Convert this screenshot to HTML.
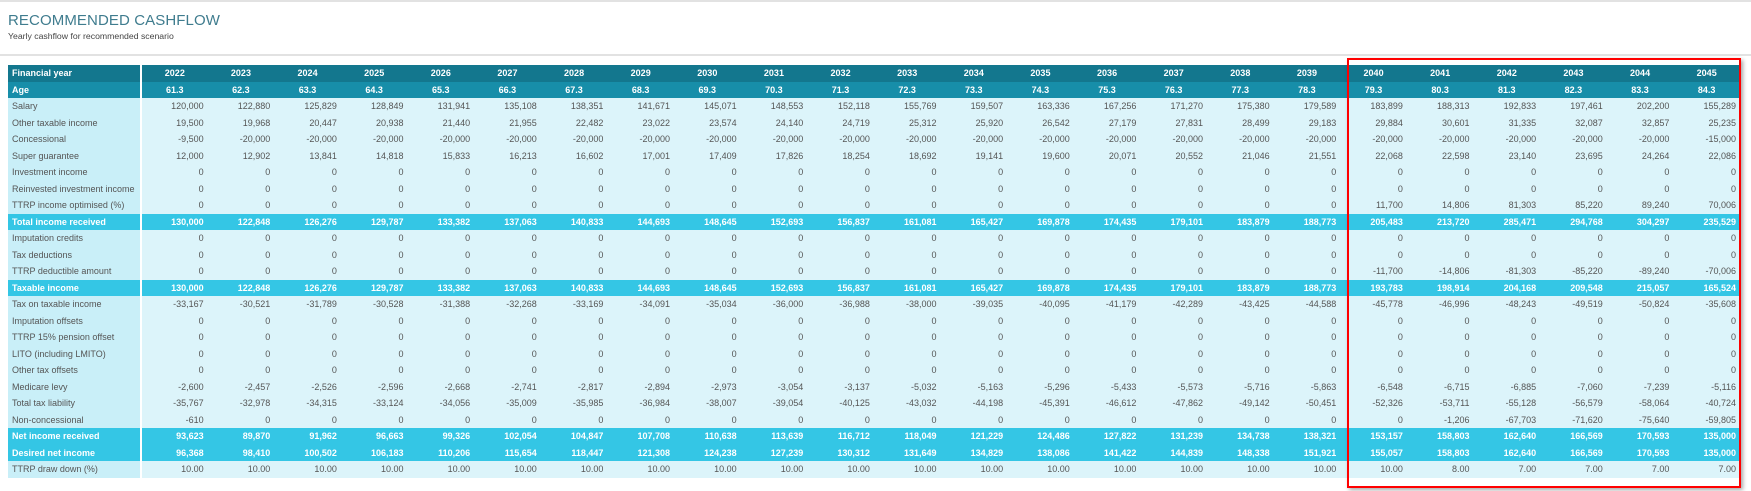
<!DOCTYPE html>
<html><head><meta charset="utf-8"><style>
body{margin:0;width:1751px;height:491px;background:#fff;position:relative;overflow:hidden;font-family:"Liberation Sans",sans-serif;}
.line{position:absolute;left:0;width:1751px;height:2px;background:#e2e2e2;}
#title{position:absolute;left:8px;top:12px;font-size:15px;color:#3f7c8e;letter-spacing:0.1px;font-weight:normal;}
#sub{position:absolute;left:8px;top:31px;font-size:8.7px;color:#444;}
table{position:absolute;left:8px;top:65px;border-collapse:collapse;table-layout:fixed;width:1733px;font-size:9px;color:#555;}
td{height:16.5px;padding:0 4px;text-align:right;white-space:nowrap;overflow:hidden;background:#dcf4fa;box-sizing:border-box;}
td.lab{text-align:left;background:#c9eff8;border-right:2px solid #fff;}
tr.h1 td{background:#13778e;color:#fff;font-weight:bold;text-align:center;}
tr.h2 td{background:#178ea9;color:#fff;font-weight:bold;text-align:center;}
tr.h1 td.lab,tr.h2 td.lab{text-align:left;}
tr.hl td{background:#34c6e5;color:#fff;font-weight:bold;}
#redbox{position:absolute;left:1347px;top:58px;width:390px;height:426px;border:2px solid #f00;box-shadow:2px 2px 4px rgba(0,0,0,0.35);}
</style></head><body>
<div class="line" style="top:0"></div>
<div id="title">RECOMMENDED CASHFLOW</div>
<div id="sub">Yearly cashflow for recommended scenario</div>
<div class="line" style="top:54px"></div>
<table id="tbl"><colgroup><col style="width:133px"></colgroup><tbody id="tb"></tbody></table>
<div id="redbox"></div>
<script>
const years=[2022,2023,2024,2025,2026,2027,2028,2029,2030,2031,2032,2033,2034,2035,2036,2037,2038,2039,2040,2041,2042,2043,2044,2045];
const ages=["61.3","62.3","63.3","64.3","65.3","66.3","67.3","68.3","69.3","70.3","71.3","72.3","73.3","74.3","75.3","76.3","77.3","78.3","79.3","80.3","81.3","82.3","83.3","84.3"];
const Z=new Array(24).fill(0);
const salary=[120000,122880,125829,128849,131941,135108,138351,141671,145071,148553,152118,155769,159507,163336,167256,171270,175380,179589,183899,188313,192833,197461,202200,155289];
const otherTaxable=[19500,19968,20447,20938,21440,21955,22482,23022,23574,24140,24719,25312,25920,26542,27179,27831,28499,29183,29884,30601,31335,32087,32857,25235];
const concessional=[-9500,-20000,-20000,-20000,-20000,-20000,-20000,-20000,-20000,-20000,-20000,-20000,-20000,-20000,-20000,-20000,-20000,-20000,-20000,-20000,-20000,-20000,-20000,-15000];
const superGuarantee=[12000,12902,13841,14818,15833,16213,16602,17001,17409,17826,18254,18692,19141,19600,20071,20552,21046,21551,22068,22598,23140,23695,24264,22086];
const ttrpIncome=[0,0,0,0,0,0,0,0,0,0,0,0,0,0,0,0,0,0,11700,14806,81303,85220,89240,70006];
const totalIncome=[130000,122848,126276,129787,133382,137063,140833,144693,148645,152693,156837,161081,165427,169878,174435,179101,183879,188773,205483,213720,285471,294768,304297,235529];
const ttrpDeductible=[0,0,0,0,0,0,0,0,0,0,0,0,0,0,0,0,0,0,-11700,-14806,-81303,-85220,-89240,-70006];
const taxableIncome=[130000,122848,126276,129787,133382,137063,140833,144693,148645,152693,156837,161081,165427,169878,174435,179101,183879,188773,193783,198914,204168,209548,215057,165524];
const taxOnTaxable=[-33167,-30521,-31789,-30528,-31388,-32268,-33169,-34091,-35034,-36000,-36988,-38000,-39035,-40095,-41179,-42289,-43425,-44588,-45778,-46996,-48243,-49519,-50824,-35608];
const medicare=[-2600,-2457,-2526,-2596,-2668,-2741,-2817,-2894,-2973,-3054,-3137,-5032,-5163,-5296,-5433,-5573,-5716,-5863,-6548,-6715,-6885,-7060,-7239,-5116];
const totalTax=[-35767,-32978,-34315,-33124,-34056,-35009,-35985,-36984,-38007,-39054,-40125,-43032,-44198,-45391,-46612,-47862,-49142,-50451,-52326,-53711,-55128,-56579,-58064,-40724];
const nonConcessional=[-610,0,0,0,0,0,0,0,0,0,0,0,0,0,0,0,0,0,0,-1206,-67703,-71620,-75640,-59805];
const netIncome=[93623,89870,91962,96663,99326,102054,104847,107708,110638,113639,116712,118049,121229,124486,127822,131239,134738,138321,153157,158803,162640,166569,170593,135000];
const desiredNet=[96368,98410,100502,106183,110206,115654,118447,121308,124238,127239,130312,131649,134829,138086,141422,144839,148338,151921,155057,158803,162640,166569,170593,135000];
const drawDown=[10,10,10,10,10,10,10,10,10,10,10,10,10,10,10,10,10,10,10,8,7,7,7,7];
const fmt=v=>v.toLocaleString('en-US');
const rows=[
["Financial year",years.map(String),"h1"],["Age",ages,"h2"],
["Salary",salary.map(fmt)],["Other taxable income",otherTaxable.map(fmt)],["Concessional",concessional.map(fmt)],
["Super guarantee",superGuarantee.map(fmt)],["Investment income",Z.map(fmt)],["Reinvested investment income",Z.map(fmt)],
["TTRP income optimised (%)",ttrpIncome.map(fmt)],["Total income received",totalIncome.map(fmt),"hl"],
["Imputation credits",Z.map(fmt)],["Tax deductions",Z.map(fmt)],["TTRP deductible amount",ttrpDeductible.map(fmt)],
["Taxable income",taxableIncome.map(fmt),"hl"],["Tax on taxable income",taxOnTaxable.map(fmt)],
["Imputation offsets",Z.map(fmt)],["TTRP 15% pension offset",Z.map(fmt)],["LITO (including LMITO)",Z.map(fmt)],
["Other tax offsets",Z.map(fmt)],["Medicare levy",medicare.map(fmt)],["Total tax liability",totalTax.map(fmt)],
["Non-concessional",nonConcessional.map(fmt)],["Net income received",netIncome.map(fmt),"hl"],
["Desired net income",desiredNet.map(fmt),"hl"],["TTRP draw down (%)",drawDown.map(v=>v.toFixed(2))]];
const tb=document.getElementById('tb');
rows.forEach(r=>{
  const tr=document.createElement('tr');
  if(r[2])tr.className=r[2];
  const slug=r[0].toLowerCase().replace(/[^a-z0-9]+/g,'-').replace(/-+$/,'');
  
  
  const l=document.createElement('td');l.className='lab';l.textContent=r[0];
  
  
  tr.appendChild(l);
  r[1].forEach((v,i)=>{
    const td=document.createElement('td');td.textContent=v;
    
    
    tr.appendChild(td);
  });
  tb.appendChild(tr);
});
</script>
</body></html>
